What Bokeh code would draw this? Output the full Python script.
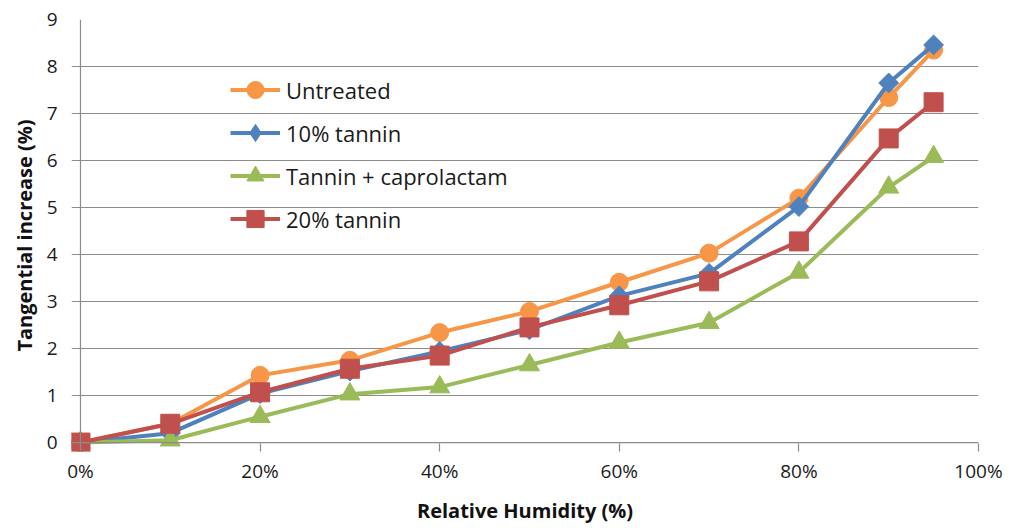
import math
from bokeh.plotting import figure
from bokeh.models import FixedTicker, Legend, LegendItem, Range1d, Span
from bokeh.embed import file_html
from bokeh.resources import INLINE

# ---- data ----
humidity = [0, 10, 20, 30, 40, 50, 60, 70, 80, 90, 95]
untreated = [0, 0.40, 1.43, 1.75, 2.34, 2.79, 3.41, 4.03, 5.20, 7.34, 8.35]
tannin10 = [0, 0.20, 1.04, 1.52, 1.94, 2.40, 3.12, 3.60, 5.02, 7.65, 8.46]
tannin_capro = [0, 0.05, 0.55, 1.03, 1.18, 1.65, 2.13, 2.55, 3.62, 5.43, 6.08]
tannin20 = [0, 0.40, 1.07, 1.57, 1.85, 2.45, 2.92, 3.43, 4.28, 6.47, 7.24]
series_names = ["Untreated", "10% tannin", "Tannin + caprolactam", "20% tannin"]
x_ticks = [0, 20, 40, 60, 80, 100]
x_tick_labels = ["0%", "20%", "40%", "60%", "80%", "100%"]
y_ticks = [0, 1, 2, 3, 4, 5, 6, 7, 8, 9]

FONT = "Open Sans"
colors = ["#F79646", "#4F81BD", "#9BBB59", "#C0504D"]
AXC = "#8C8C8C"

p = figure(width=1009, height=528, output_backend="svg", toolbar_location=None,
           x_range=Range1d(-1.0, 100), y_range=Range1d(-0.19, 9),
           min_border_left=71, min_border_right=31, min_border_top=19, min_border_bottom=77)
p.outline_line_color = None
p.background_fill_color = "white"
p.border_fill_color = "white"

p.xgrid.grid_line_color = None
p.ygrid.grid_line_color = AXC
p.ygrid.grid_line_width = 1.2
p.ygrid.ticker = FixedTicker(ticks=y_ticks)

p.xaxis.ticker = FixedTicker(ticks=x_ticks)
p.xaxis.major_label_overrides = {t: l for t, l in zip(x_ticks, x_tick_labels)}
p.yaxis.ticker = FixedTicker(ticks=y_ticks)

for ax in (p.xaxis[0], p.yaxis[0]):
    ax.axis_line_color = None
    ax.major_tick_line_color = AXC
    ax.major_tick_line_width = 1.2
    ax.minor_tick_line_color = None
    ax.major_label_text_font = FONT
    ax.major_label_text_font_size = "19px"
    ax.major_label_text_color = "#1a1a1a"
    ax.axis_label_text_font = FONT
    ax.axis_label_text_font_size = "20px"
    ax.axis_label_text_font_style = "bold"
    ax.axis_label_text_color = "#111111"

p.xaxis.major_tick_in = 8
p.xaxis.major_tick_out = 0
p.xaxis.major_label_standoff = 6
p.xaxis.axis_label = "Relative Humidity (%)"
p.xaxis.axis_label_standoff = 10

p.yaxis.major_tick_line_color = None
p.yaxis.major_tick_in = 0
p.yaxis.major_tick_out = 0
p.yaxis.major_label_standoff = 14
p.yaxis.axis_label = "Tangential increase (%)"
p.yaxis.axis_label_standoff = 6

# axis lines at the data origin
p.add_layout(Span(location=0, dimension="height", line_color=AXC, line_width=1.2))
p.add_layout(Span(location=0, dimension="width", line_color=AXC, line_width=1.2))

data = [untreated, tannin10, tannin_capro, tannin20]
items = []
for name, ys, c, kind in zip(series_names, data, colors, ["circle", "diamond", "triangle", "square"]):
    ln = p.line(humidity, ys, line_color=c, line_width=4, line_join="round")
    if kind == "circle":
        mk = p.scatter(humidity, ys, marker="circle", size=18, fill_color=c, line_color=c)
        rs = [ln, mk]
    elif kind == "diamond":
        mk = p.scatter(humidity, ys, marker="square", size=14, angle=math.pi / 4,
                       fill_color=c, line_color=c)
        lg = p.scatter([float("nan")], [float("nan")], marker="diamond", size=20,
                       fill_color=c, line_color=c)
        rs = [ln, lg]
    elif kind == "triangle":
        mk = p.scatter(humidity, ys, marker="triangle", size=20, fill_color=c, line_color=c)
        rs = [ln, mk]
    else:
        mk = p.scatter(humidity, ys, marker="square", size=19, fill_color=c, line_color=c)
        rs = [ln, mk]
    items.append(LegendItem(label=name, renderers=rs))

legend = Legend(items=items, location=(159, 211), glyph_width=50, glyph_height=43,
                spacing=0, padding=0, margin=0, label_standoff=6,
                label_text_font=FONT, label_text_font_size="22px",
                label_text_color="#1a1a1a", border_line_color=None,
                background_fill_alpha=0)
p.add_layout(legend, "center")

open("out.html", "w").write(file_html(p, INLINE))
